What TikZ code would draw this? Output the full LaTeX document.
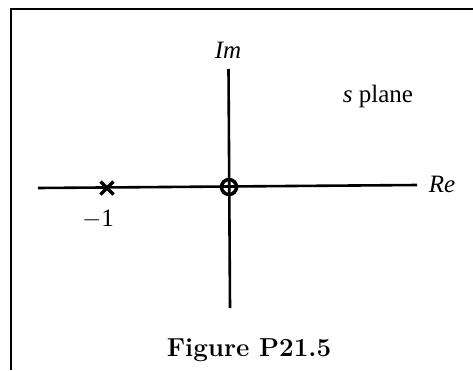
\documentclass[tikz,border=0pt]{standalone}
\usepackage{fontspec}
\newfontfamily\timesf{Liberation Serif}
\begin{document}
\begin{tikzpicture}[x=1pt,y=-1pt,
  axis/.style={line width=2.6pt},
  lbl/.style={font=\timesf\fontsize{25}{28}\selectfont, inner sep=0pt},
  frame/.style={line width=1.3pt}]
\useasboundingbox (0,0) rectangle (473,370);
\draw[frame] (473,9) -- (11,9) -- (11,370);
\coordinate (L) at (38,188);
\coordinate (R) at (417,185);
\coordinate (T) at (228.5,69);
\coordinate (B) at (230,308);
\coordinate (O) at (229,187);
\draw[axis] (L) -- (R);
\draw[axis] (T) -- (B);
\draw[line width=3.5pt] (O) circle (7.5);
\coordinate (X) at (107,188);
\draw[line width=3.5pt] ([shift={(-6.5,-6.5)}]X) -- ([shift={(6.5,6.5)}]X);
\draw[line width=3.5pt] ([shift={(-6.5,6.5)}]X) -- ([shift={(6.5,-6.5)}]X);
\node[lbl] (im) at (228,50) {\itshape Im};
\node[lbl] (re) at (442,184) {\itshape Re};
\node[lbl] (m1) at (98,219) {$-$1};
\node[lbl] (sp) at (378,96) {\itshape s\upshape\ plane};
\node[font=\bfseries\fontsize{26}{29}\selectfont, inner sep=0pt] (cap) at (249,350) {Figure P21.5};
\end{tikzpicture}
\end{document}
